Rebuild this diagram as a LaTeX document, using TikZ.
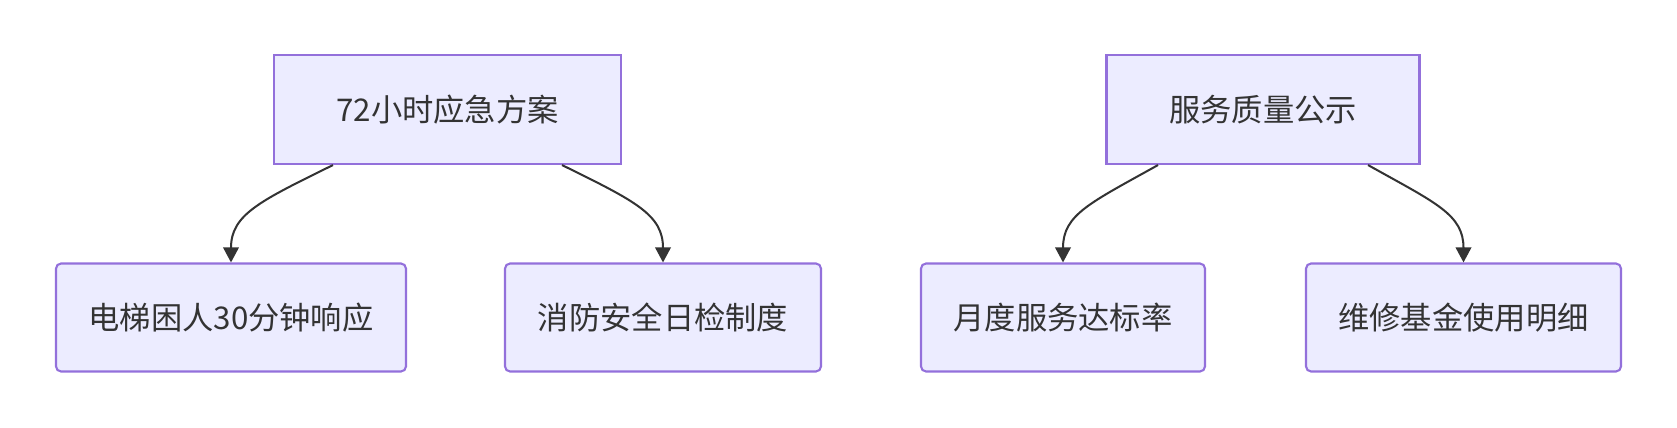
\documentclass[tikz,border=0pt]{standalone}
\usepackage{fontspec}
\setmainfont{Noto Sans CJK SC}
\usetikzlibrary{arrows.meta,positioning,calc}
\definecolor{nodefill}{HTML}{ECECFF}
\definecolor{nodeedge}{HTML}{9370DB}
\definecolor{darkgray}{HTML}{333333}
\tikzset{
  topbox/.style ={rectangle, draw=nodeedge, fill=nodefill, line width=1.2pt,
                  minimum height=2.18cm, align=center, text=darkgray},
  leafbox/.style={rectangle, rounded corners=0.1cm, draw=nodeedge, fill=nodefill, line width=1.2pt,
                  minimum height=2.16cm, align=center, text=darkgray},
  flow/.style   ={-{Triangle[length=0.3cm, width=0.31cm]}, line width=1.15pt, draw=darkgray}
}
\begin{document}
\begin{tikzpicture}[x=0.02cm, y=-0.02cm, font=\fontsize{17.8}{21}\selectfont]
\useasboundingbox (0,0) rectangle (1677,428);
% emergency plan
\node[topbox, minimum width=6.94cm] (plan) at (447.5,109.5) {72小时应急方案};
\node[leafbox, minimum width=7.0cm] (lift) at (231,317.5) {电梯困人30分钟响应};
\node[leafbox, minimum width=6.32cm] (fire) at (663,317.5) {消防安全日检制度};
\draw[flow] ($(plan.south)+(-114.5,0)$) .. controls +(-73,36) and +(0,-48) .. (lift.north);
\draw[flow] ($(plan.south)+(114.5,0)$) .. controls +(73,36) and +(0,-48) .. (fire.north);

% service quality
\node[topbox, minimum width=6.26cm] (qual) at (1263,109.5) {服务质量公示};
\node[leafbox, minimum width=5.68cm] (rate) at (1063,317.5) {月度服务达标率};
\node[leafbox, minimum width=6.3cm] (fund) at (1463.5,317.5) {维修基金使用明细};
\draw[flow] ($(qual.south)+(-105,0)$) .. controls +(-68,38) and +(0,-48) .. (rate.north);
\draw[flow] ($(qual.south)+(105,0)$) .. controls +(68,38) and +(0,-48) .. (fund.north);
\end{tikzpicture}
\end{document}
